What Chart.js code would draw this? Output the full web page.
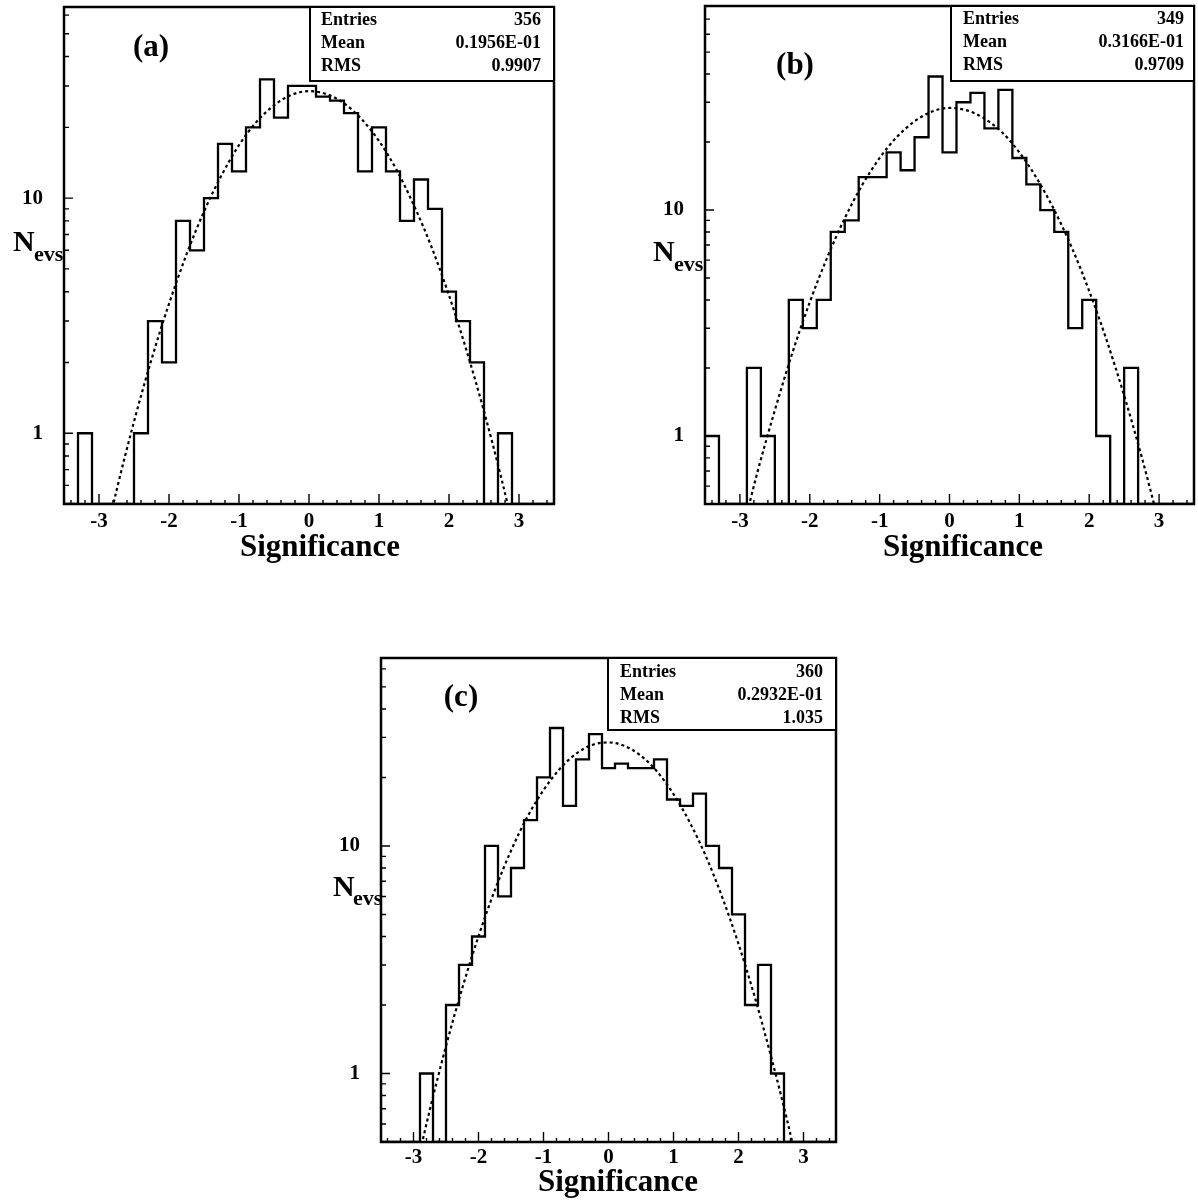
<!DOCTYPE html>
<html>
<head>
<meta charset="utf-8">
<title>Significance distributions</title>
<script src="https://cdn.jsdelivr.net/npm/chart.js@4.4.1/dist/chart.umd.min.js"></script>
<style>
  html, body { margin: 0; padding: 0; background: #fff; }
  body { width: 1198px; height: 1202px; position: relative; overflow: hidden; }
  canvas { position: absolute; }
</style>
</head>
<body>
<canvas id="chart-a" width="600" height="580"></canvas>
<canvas id="chart-b" width="578" height="580"></canvas>
<canvas id="chart-c" width="600" height="582"></canvas>
<script>
// ===== DATA =====
// bin centres, width 0.2, range -3.5 .. 3.5
const binCenters = [-3.4, -3.2, -3.0, -2.8, -2.6, -2.4, -2.2, -2.0, -1.8, -1.6, -1.4, -1.2, -1.0, -0.8, -0.6,
  -0.4, -0.2, 0, 0.2, 0.4, 0.6, 0.8, 1.0, 1.2, 1.4, 1.6, 1.8, 2.0, 2.2, 2.4, 2.6, 2.8, 3.0, 3.2, 3.4];

const countsA = [0, 1, 0, 0, 0, 1, 3, 2, 8, 6, 10, 17, 13, 20, 32, 22, 30, 30, 27, 26, 23, 13, 20, 13, 8, 12, 9, 4, 3, 2, 0, 1, 0, 0, 0];
const countsB = [1, 0, 0, 2, 1, 0, 4, 3, 4, 8, 9, 14, 14, 18, 15, 21, 39, 18, 30, 33, 23, 34, 17, 13, 10, 8, 3, 4, 1, 0, 2, 0, 0, 0, 0];
const countsC = [0, 0, 0, 1, 0, 2, 3, 4, 10, 6, 8, 13, 20, 33, 15, 24, 31, 22, 23, 22, 22, 24, 16, 15, 17, 10, 8, 5, 2, 3, 1, 0, 0, 0, 0];

// dotted fit curve
const fitX = [-3, -2.75, -2.5, -2.25, -2, -1.75, -1.5, -1.25, -1, -0.75, -0.5, -0.25, 0,
  0.25, 0.5, 0.75, 1, 1.25, 1.5, 1.75, 2, 2.25, 2.5, 2.75, 3];
const fitA = [0.27, 0.57, 1.12, 2.06, 3.55, 5.76, 8.77, 12.5, 16.8, 21.1, 24.8, 27.5, 28.5,
  27.7, 25.3, 21.7, 17.5, 13.2, 9.3, 6.2, 3.86, 2.25, 1.24, 0.64, 0.31];
const fitB = [0.34, 0.69, 1.30, 2.33, 3.91, 6.17, 9.19, 12.9, 17.0, 21.1, 24.7, 27.3, 28.3,
  27.6, 25.4, 22.1, 18.0, 13.8, 10.0, 6.83, 4.38, 2.65, 1.51, 0.81, 0.41];
const fitC = [0.34, 0.69, 1.32, 2.37, 4.01, 6.38, 9.53, 13.4, 17.6, 21.8, 25.4, 27.8, 28.5,
  27.5, 24.9, 21.2, 16.9, 12.7, 8.98, 5.95, 3.71, 2.17, 1.19, 0.62, 0.30];

const xTickLabels = [-3, -2, -1, 0, 1, 2, 3];
const yTickLabels = [1, 10];
const xRange = [-3.5, 3.5];
const yRangeA = [0.5, 65];
const yRangeB = [0.5, 80];
const yRangeC = [0.5, 67];

const statNames = ['Entries', 'Mean', 'RMS'];
const statsA = ['356', '0.1956E-01', '0.9907'];
const statsB = ['349', '0.3166E-01', '0.9709'];
const statsC = ['360', '0.2932E-01', '1.035'];

// ===== LAYOUT (page coordinates) =====
const SERIF = "'Liberation Serif', 'Times New Roman', serif";

const panels = [
  { id: 'chart-a', counts: countsA, fit: fitA, stats: statsA, tag: '(a)', yRange: yRangeA,
    canvas: { x: 0, y: 0, w: 600, h: 580 }, area: { left: 64, top: 7, right: 554, bottom: 504 },
    tagPos: [151, 48], boxLeft: 310, boxBottom: 81, rows: [20, 43, 66], textLeft: 321, textRight: 541,
    nPos: [13, 251], evsPos: [34, 261], titlePos: [320, 548], xPad: 5 },
  { id: 'chart-b', counts: countsB, fit: fitB, stats: statsB, tag: '(b)', yRange: yRangeB,
    canvas: { x: 620, y: 0, w: 578, h: 580 }, area: { left: 705, top: 6, right: 1194, bottom: 504 },
    tagPos: [795, 66], boxLeft: 951, boxBottom: 81, rows: [19, 42, 65], textLeft: 963, textRight: 1184,
    nPos: [653, 261], evsPos: [674, 271], titlePos: [963, 548], xPad: 5 },
  { id: 'chart-c', counts: countsC, fit: fitC, stats: statsC, tag: '(c)', yRange: yRangeC,
    canvas: { x: 300, y: 620, w: 600, h: 582 }, area: { left: 381, top: 658, right: 836, bottom: 1142 },
    tagPos: [461, 698], boxLeft: 608, boxBottom: 730, rows: [672, 695, 718], textLeft: 620, textRight: 823,
    nPos: [333, 896], evsPos: [353, 905], titlePos: [618, 1183], xPad: 3 },
];

// step outline: two points per bin, empty bins sit on the axis floor
function histPoints(counts, floor) {
  const w = binCenters[1] - binCenters[0];
  const pts = [];
  binCenters.forEach((c, i) => {
    const v = counts[i] > 0 ? counts[i] : floor;
    pts.push({ x: c - w / 2, y: v }, { x: c + w / 2, y: v });
  });
  return pts;
}

function decorPlugin(p) {
  const ox = p.canvas.x, oy = p.canvas.y;
  return {
    id: 'decor',
    afterDatasetsDraw(chart) {
      const { ctx, chartArea: a, scales: { x, y } } = chart;
      ctx.save();
      ctx.strokeStyle = '#000';

      // ticks pointing into the frame
      ctx.lineWidth = 1.4;
      ctx.beginPath();
      for (let k = -17; k <= 17; k++) {
        const px = x.getPixelForValue(k / 5);
        const len = k % 5 === 0 ? 10 : 4;
        ctx.moveTo(px, a.bottom);
        ctx.lineTo(px, a.bottom - len);
      }
      for (let e = -1; e <= 1; e++) {
        for (let m = 1; m <= 9; m++) {
          const v = m * Math.pow(10, e);
          if (v < y.min || v > y.max) continue;
          const py = y.getPixelForValue(v);
          ctx.moveTo(a.left, py);
          ctx.lineTo(a.left + (m === 1 ? 9 : 5), py);
        }
      }
      ctx.stroke();

      // frame
      ctx.lineWidth = 2.5;
      ctx.strokeRect(a.left, a.top, a.right - a.left, a.bottom - a.top);

      // stats box
      const bx = p.boxLeft - ox, by = p.boxBottom - oy;
      ctx.fillStyle = '#fff';
      ctx.fillRect(bx, a.top, a.right - bx, by - a.top);
      ctx.lineWidth = 2;
      ctx.strokeRect(bx, a.top, a.right - bx, by - a.top);
      ctx.fillStyle = '#000';
      ctx.font = `bold 18px ${SERIF}`;
      ctx.textBaseline = 'middle';
      statNames.forEach((name, i) => {
        ctx.textAlign = 'left';
        ctx.fillText(name, p.textLeft - ox, p.rows[i] - oy);
        ctx.textAlign = 'right';
        ctx.fillText(p.stats[i], p.textRight - ox, p.rows[i] - oy);
      });

      // panel tag
      ctx.textAlign = 'center';
      ctx.font = `bold 31px ${SERIF}`;
      ctx.fillText(p.tag, p.tagPos[0] - ox, p.tagPos[1] - oy);

      // axis titles
      ctx.font = `bold 31px ${SERIF}`;
      ctx.fillText('Significance', p.titlePos[0] - ox, p.titlePos[1] - oy);

      ctx.textAlign = 'left';
      ctx.textBaseline = 'alphabetic';
      ctx.font = `bold 30px ${SERIF}`;
      ctx.fillText('N', p.nPos[0] - ox, p.nPos[1] - oy);
      ctx.font = `bold 22px ${SERIF}`;
      ctx.fillText('evs', p.evsPos[0] - ox, p.evsPos[1] - oy);
      ctx.restore();
    }
  };
}

function renderPanel(p) {
  const el = document.getElementById(p.id);
  el.style.left = p.canvas.x + 'px';
  el.style.top = p.canvas.y + 'px';
  const ox = p.canvas.x, oy = p.canvas.y;
  const tickFont = { family: SERIF, size: 21, weight: 'bold' };

  return new Chart(el, {
    type: 'line',
    data: {
      datasets: [
        {
          data: histPoints(p.counts, p.yRange[0]),
          borderColor: '#000',
          borderWidth: 2.3,
          pointRadius: 0,
          tension: 0,
          fill: false,
        },
        {
          data: fitX.map((v, i) => ({ x: v, y: p.fit[i] })),
          borderColor: '#000',
          borderWidth: 2.2,
          borderDash: [3, 3],
          pointRadius: 0,
          cubicInterpolationMode: 'monotone',
          fill: false,
          clip: 0,
        }
      ]
    },
    options: {
      responsive: false,
      animation: false,
      devicePixelRatio: 1,
      events: [],
      layout: {
        padding: { left: 0, top: p.area.top - oy, right: ox + p.canvas.w - p.area.right, bottom: 0 }
      },
      plugins: { legend: { display: false }, tooltip: { enabled: false } },
      scales: {
        x: {
          type: 'linear',
          min: xRange[0],
          max: xRange[1],
          grid: { display: false, drawTicks: false },
          border: { display: false },
          ticks: {
            color: '#000', font: tickFont, padding: p.xPad,
            autoSkip: false, maxRotation: 0,
            callback: v => String(v)
          },
          afterBuildTicks: s => { s.ticks = xTickLabels.map(v => ({ value: v })); },
          afterFit: s => {
            s.height = oy + p.canvas.h - p.area.bottom;
            s.paddingLeft = 0; s.paddingRight = 0;
          }
        },
        y: {
          type: 'logarithmic',
          min: p.yRange[0],
          max: p.yRange[1],
          grid: { display: false, drawTicks: false },
          border: { display: false },
          ticks: {
            color: '#000', font: tickFont, padding: 21,
            autoSkip: false,
            callback: v => String(v)
          },
          afterBuildTicks: s => { s.ticks = yTickLabels.map(v => ({ value: v })); },
          afterFit: s => {
            s.width = p.area.left - ox;
            s.paddingTop = 0; s.paddingBottom = 0;
          }
        }
      }
    },
    plugins: [decorPlugin(p)]
  });
}

panels.forEach(renderPanel);
</script>
</body>
</html>
